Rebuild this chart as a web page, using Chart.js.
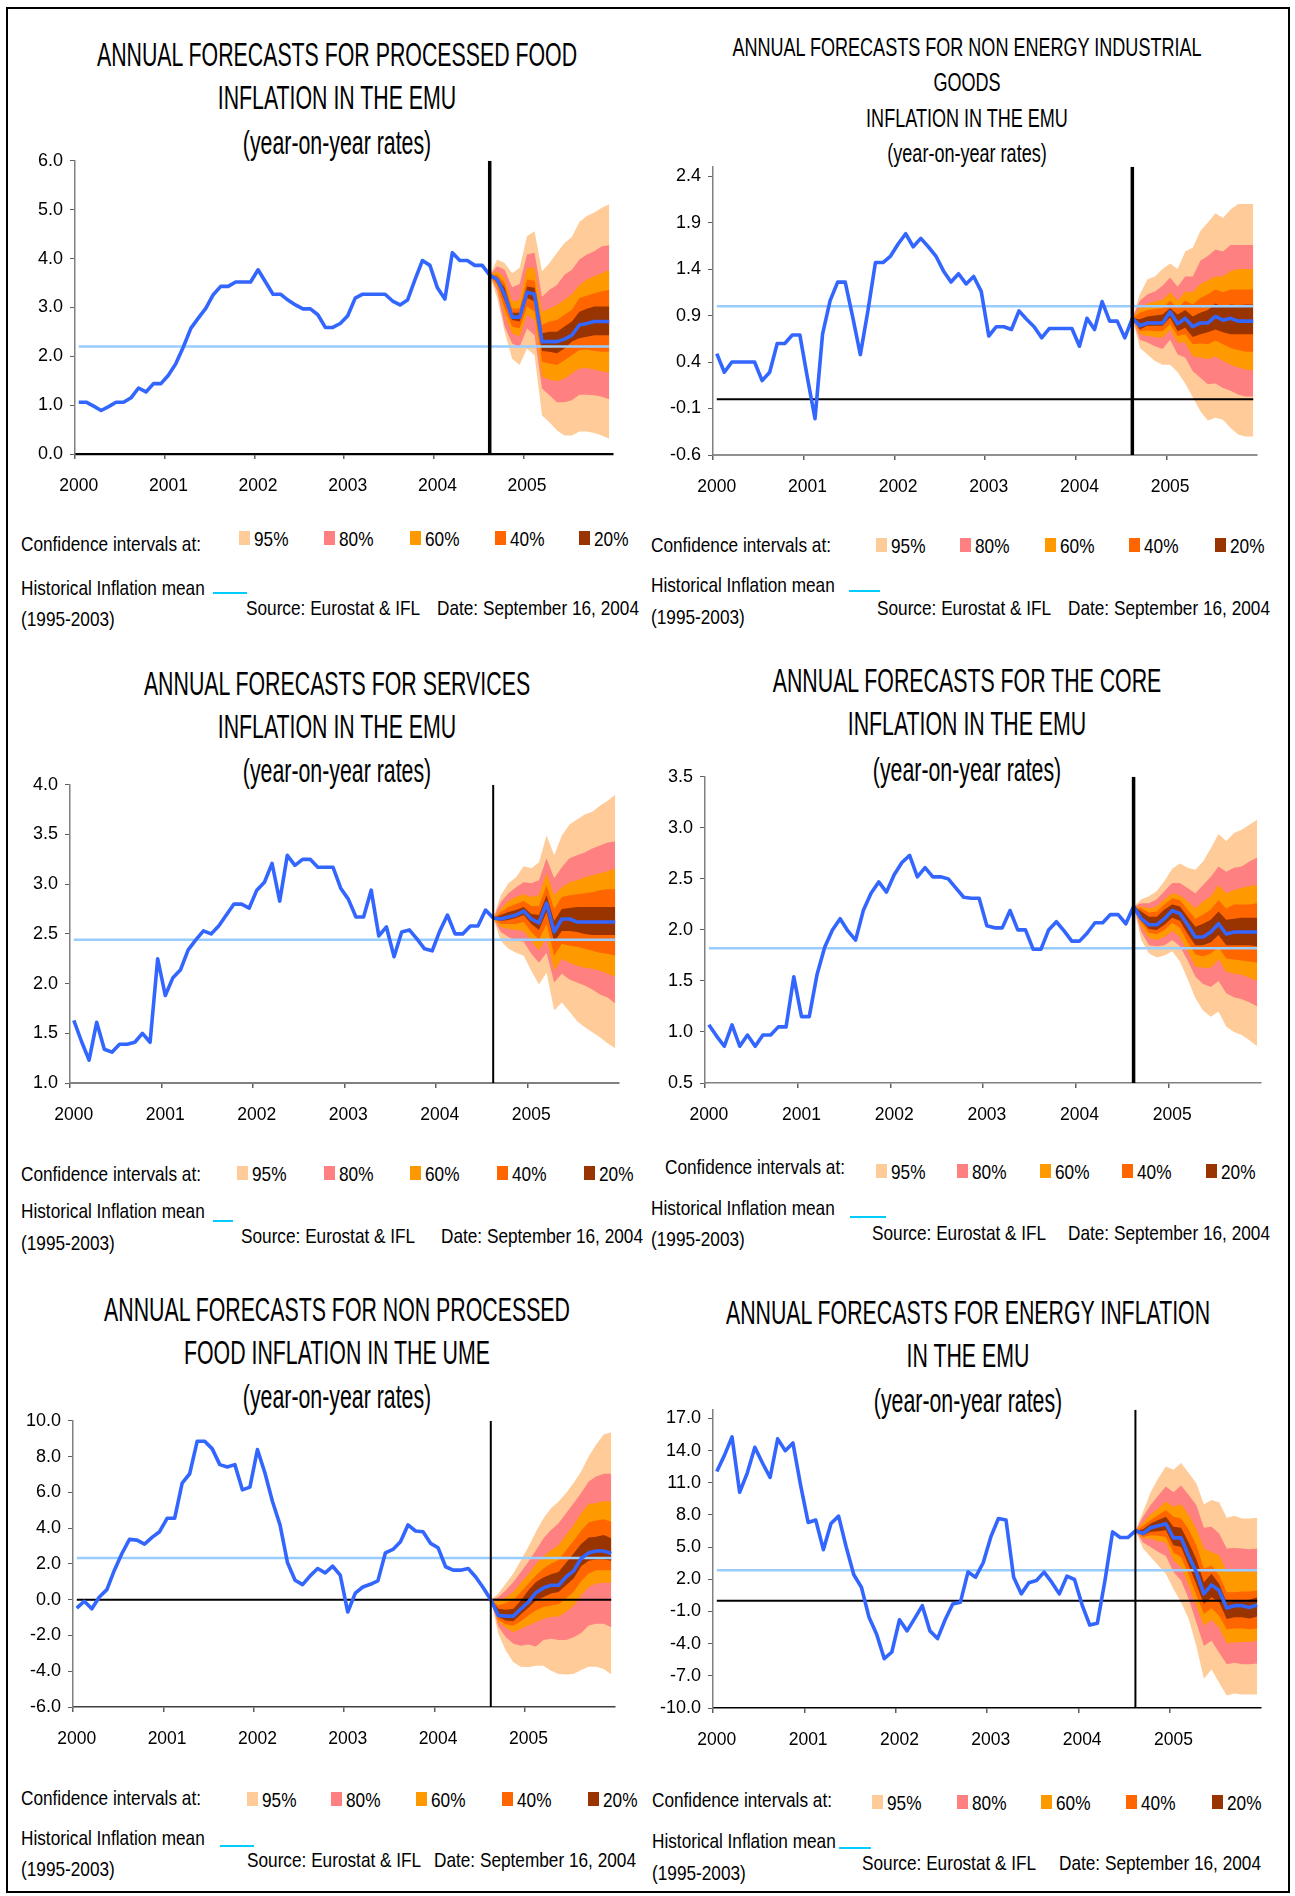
<!DOCTYPE html>
<html><head><meta charset="utf-8">
<script src="https://cdn.jsdelivr.net/npm/chart.js@4.4.1/dist/chart.umd.min.js"></script>
<style>
html,body{margin:0;padding:0;background:#fff;}
#page{position:relative;width:1295px;height:1896px;overflow:hidden;background:#fff;font-family:'Liberation Sans',Arial,sans-serif;color:#000;}
#frame{position:absolute;left:6px;top:7px;width:1284px;height:1886px;border:2px solid #000;box-sizing:border-box;}
.t{position:absolute;white-space:nowrap;line-height:1;}
canvas{position:absolute;}
</style></head><body><div id="page"><div id="frame"></div></div>
<script>
// ---------- categories ----------
const years = [2000, 2001, 2002, 2003, 2004, 2005];
const monthNames = ['Jan','Feb','Mar','Apr','May','Jun','Jul','Aug','Sep','Oct','Nov','Dec'];
const forecastStart = 'Aug 2004';
const bandLevels = ['95%', '80%', '60%', '40%', '20%'];

// ---------- 1. processed food ----------
const pfTicks = [0.0, 1.0, 2.0, 3.0, 4.0, 5.0, 6.0];
const pfMean = 2.2;
const pfHist = [1.06,1.06,0.98,0.89,0.97,1.06,1.06,1.15,1.35,1.27,1.44,1.44,
 1.61,1.85,2.19,2.57,2.78,2.98,3.26,3.43,3.43,3.52,3.52,3.52,
 3.77,3.52,3.27,3.27,3.15,3.05,2.97,2.97,2.85,2.59,2.59,2.67,
 2.83,3.19,3.27,3.27,3.27,3.27,3.13,3.05,3.15,3.57,3.96,3.86,
 3.40,3.17,4.12,3.96,3.96,3.86,3.86,3.66];
const pfFc  = [3.66,3.57,3.26,2.80,2.80,3.31,3.27,2.30,2.30,2.30,2.35,2.43,2.64,2.67,2.71,2.71,2.71];
const pfU95 = [3.66,3.98,3.91,3.70,3.81,4.46,4.56,3.74,3.91,4.12,4.32,4.44,4.75,4.87,4.94,5.04,5.11];
const pfU80 = [3.66,3.84,3.77,3.41,3.48,4.08,4.12,3.22,3.36,3.46,3.67,3.77,3.98,4.08,4.15,4.25,4.27];
const pfU60 = [3.66,3.74,3.60,3.12,3.15,3.81,3.81,2.91,2.98,3.05,3.15,3.27,3.46,3.57,3.64,3.70,3.77];
const pfU40 = [3.66,3.67,3.50,2.98,2.98,3.57,3.55,2.64,2.71,2.74,2.85,2.95,3.19,3.24,3.29,3.33,3.36];
const pfU20 = [3.66,3.61,3.40,2.89,2.89,3.43,3.40,2.47,2.50,2.50,2.61,2.71,2.91,2.97,3.02,3.02,3.02];
const pfL20 = [3.66,3.52,3.13,2.74,2.71,3.19,3.12,2.11,2.09,2.06,2.16,2.30,2.37,2.40,2.43,2.43,2.43];
const pfL40 = [3.66,3.46,2.98,2.61,2.57,3.02,2.91,1.89,1.85,1.82,1.92,2.02,2.13,2.14,2.11,2.09,2.09];
const pfL60 = [3.66,3.40,2.85,2.47,2.40,2.85,2.74,1.58,1.52,1.49,1.54,1.65,1.75,1.76,1.73,1.69,1.67];
const pfL80 = [3.66,3.33,2.61,2.26,2.19,2.57,2.43,1.34,1.20,1.06,1.06,1.10,1.21,1.21,1.20,1.17,1.12];
const pfL95 = [3.66,3.19,2.50,1.95,1.82,2.16,2.02,0.79,0.65,0.48,0.38,0.38,0.46,0.46,0.43,0.38,0.31];

// ---------- 2. non energy industrial goods ----------
const neTicks = [-0.6, -0.1, 0.4, 0.9, 1.4, 1.9, 2.4];
const neMean = 1.0;
const neHist = [0.49,0.29,0.40,0.40,0.40,0.40,0.20,0.29,0.60,0.60,0.69,0.69,
 0.23,-0.21,0.70,1.06,1.26,1.26,0.88,0.48,0.95,1.47,1.47,1.54,
 1.67,1.78,1.64,1.73,1.64,1.54,1.38,1.26,1.35,1.24,1.32,1.16,
 0.68,0.78,0.78,0.75,0.95,0.86,0.78,0.66,0.76,0.76,0.76,0.76,
 0.57,0.87,0.75,1.05,0.84,0.84,0.66,0.87];
const neFc  = [0.87,0.79,0.82,0.82,0.82,0.94,0.81,0.87,0.78,0.82,0.82,0.89,0.85,0.87,0.84,0.84,0.84];
const neU95 = [0.87,1.13,1.29,1.32,1.40,1.46,1.40,1.59,1.63,1.81,1.90,2.00,1.95,2.04,2.10,2.10,2.10];
const neU80 = [0.87,1.06,1.13,1.16,1.22,1.31,1.21,1.32,1.32,1.49,1.54,1.61,1.59,1.66,1.66,1.66,1.66];
const neU60 = [0.87,0.98,1.03,1.05,1.07,1.15,1.06,1.16,1.15,1.24,1.28,1.32,1.32,1.38,1.40,1.40,1.40];
const neU40 = [0.87,0.93,0.96,0.97,0.98,1.06,0.98,1.06,1.02,1.09,1.13,1.18,1.15,1.18,1.18,1.18,1.18];
const neU20 = [0.87,0.86,0.89,0.90,0.91,0.98,0.91,0.96,0.89,0.93,0.96,1.03,0.99,1.02,1.01,1.02,1.02];
const neL20 = [0.87,0.75,0.79,0.79,0.79,0.88,0.73,0.77,0.67,0.70,0.72,0.75,0.72,0.70,0.70,0.70,0.70];
const neL40 = [0.87,0.73,0.74,0.73,0.73,0.81,0.68,0.70,0.59,0.60,0.59,0.63,0.59,0.55,0.53,0.51,0.51];
const neL60 = [0.87,0.70,0.68,0.67,0.66,0.75,0.61,0.61,0.46,0.45,0.43,0.46,0.41,0.37,0.34,0.32,0.31];
const neL80 = [0.87,0.64,0.61,0.57,0.54,0.64,0.48,0.45,0.30,0.23,0.16,0.17,0.12,0.09,0.05,0.03,0.03];
const neL95 = [0.87,0.55,0.48,0.41,0.37,0.37,0.29,0.17,0.02,-0.13,-0.23,-0.20,-0.22,-0.31,-0.38,-0.40,-0.40];

// ---------- 3. services ----------
const svTicks = [1.0, 1.5, 2.0, 2.5, 3.0, 3.5, 4.0];
const svMean = 2.44;
const svHist = [1.63,1.42,1.23,1.61,1.34,1.31,1.39,1.39,1.41,1.50,1.41,2.25,
 1.88,2.06,2.14,2.34,2.44,2.53,2.50,2.58,2.69,2.80,2.80,2.76,
 2.94,3.02,3.21,2.83,3.29,3.19,3.25,3.25,3.17,3.17,3.17,2.96,
 2.85,2.67,2.67,2.94,2.48,2.57,2.27,2.52,2.54,2.45,2.35,2.33,
 2.53,2.69,2.50,2.50,2.58,2.58,2.74,2.66];
const svFc  = [2.66,2.65,2.67,2.69,2.73,2.65,2.61,2.81,2.52,2.65,2.65,2.62,2.62,2.62,2.62,2.62,2.62];
const svU95 = [2.66,2.89,3.01,3.07,3.18,3.16,3.22,3.49,3.29,3.49,3.60,3.65,3.70,3.73,3.79,3.84,3.90];
const svU80 = [2.66,2.82,2.91,2.97,3.02,3.01,3.04,3.26,3.06,3.17,3.26,3.29,3.32,3.36,3.39,3.42,3.43];
const svU60 = [2.66,2.75,2.83,2.87,2.90,2.87,2.89,3.11,2.89,2.97,3.02,3.04,3.07,3.09,3.11,3.13,3.16];
const svU40 = [2.66,2.72,2.77,2.80,2.83,2.78,2.78,2.99,2.75,2.87,2.89,2.90,2.91,2.92,2.94,2.95,2.95];
const svU20 = [2.66,2.69,2.72,2.74,2.77,2.70,2.69,2.89,2.63,2.75,2.76,2.77,2.77,2.77,2.77,2.77,2.77];
const svL20 = [2.66,2.63,2.64,2.66,2.69,2.60,2.54,2.72,2.42,2.53,2.53,2.52,2.50,2.49,2.49,2.49,2.49];
const svL40 = [2.66,2.60,2.60,2.60,2.62,2.52,2.44,2.60,2.28,2.40,2.38,2.37,2.35,2.33,2.31,2.30,2.28];
const svL60 = [2.66,2.57,2.55,2.54,2.53,2.43,2.33,2.47,2.13,2.25,2.21,2.18,2.16,2.15,2.13,2.10,2.07];
const svL80 = [2.66,2.52,2.47,2.43,2.42,2.30,2.21,2.31,2.01,2.10,2.04,2.01,1.98,1.94,1.89,1.86,1.80];
const svL95 = [2.66,2.43,2.35,2.31,2.28,2.13,1.99,2.11,1.73,1.81,1.72,1.62,1.56,1.51,1.46,1.40,1.35];

// ---------- 4. core ----------
const coTicks = [0.5, 1.0, 1.5, 2.0, 2.5, 3.0, 3.5];
const coMean = 1.82;
const coHist = [1.07,0.96,0.86,1.07,0.86,0.97,0.86,0.97,0.97,1.05,1.05,1.54,
 1.15,1.15,1.56,1.83,2.00,2.11,1.99,1.90,2.19,2.36,2.47,2.37,
 2.54,2.66,2.73,2.52,2.61,2.52,2.52,2.50,2.41,2.32,2.31,2.31,
 2.04,2.02,2.02,2.19,2.00,2.00,1.81,1.81,2.00,2.08,1.99,1.89,
 1.89,1.97,2.07,2.07,2.15,2.15,2.06,2.23];
const coFc  = [2.23,2.11,2.05,2.05,2.11,2.19,2.16,2.05,1.93,1.93,1.98,2.06,1.96,1.98,1.98,1.98,1.98];
const coU95 = [2.23,2.30,2.33,2.38,2.48,2.60,2.65,2.61,2.59,2.67,2.80,2.94,2.87,2.95,2.98,3.03,3.08];
const coU80 = [2.23,2.26,2.26,2.30,2.38,2.46,2.46,2.41,2.36,2.44,2.52,2.62,2.57,2.61,2.62,2.67,2.71];
const coU60 = [2.23,2.23,2.21,2.23,2.30,2.36,2.34,2.28,2.21,2.28,2.33,2.44,2.36,2.39,2.41,2.43,2.44];
const coU40 = [2.23,2.21,2.17,2.18,2.25,2.31,2.29,2.20,2.11,2.15,2.20,2.29,2.21,2.25,2.25,2.25,2.26];
const coU20 = [2.23,2.18,2.13,2.13,2.20,2.25,2.23,2.13,2.03,2.06,2.10,2.18,2.10,2.11,2.12,2.12,2.12];
const coL20 = [2.23,2.09,2.01,2.00,2.05,2.12,2.09,1.96,1.85,1.85,1.88,1.95,1.85,1.85,1.85,1.85,1.84];
const coL40 = [2.23,2.07,1.97,1.96,2.00,2.07,2.02,1.88,1.76,1.74,1.77,1.83,1.72,1.71,1.70,1.69,1.68];
const coL60 = [2.23,2.03,1.92,1.90,1.93,1.99,1.93,1.79,1.64,1.63,1.63,1.71,1.59,1.57,1.56,1.53,1.50];
const coL80 = [2.23,1.98,1.85,1.84,1.85,1.90,1.84,1.70,1.54,1.47,1.44,1.50,1.38,1.34,1.32,1.29,1.25];
const coL95 = [2.23,1.90,1.77,1.73,1.75,1.79,1.69,1.52,1.33,1.21,1.15,1.20,1.05,1.00,0.97,0.92,0.86];

// ---------- 5. non processed food ----------
const npTicks = [-6.0, -4.0, -2.0, 0.0, 2.0, 4.0, 6.0, 8.0, 10.0];
const npMean = 2.33;
const npHist = [-0.47,-0.09,-0.51,0.15,0.56,1.65,2.58,3.37,3.33,3.11,3.48,3.80,
 4.55,4.55,6.52,7.04,8.86,8.86,8.43,7.55,7.42,7.55,6.14,6.29,
 8.39,7.08,5.49,4.18,2.06,1.09,0.84,1.33,1.74,1.50,1.87,1.37,
 -0.69,0.37,0.71,0.86,1.05,2.62,2.81,3.24,4.18,3.84,3.80,3.15,
 2.90,1.84,1.65,1.65,1.74,1.27,0.67,0.00];
const npFc  = [0.00,-0.88,-0.92,-0.92,-0.51,-0.13,0.39,0.66,0.81,0.81,1.27,1.61,2.30,2.62,2.72,2.72,2.58];
const npU95 = [0.00,0.34,0.90,1.46,2.21,2.96,3.80,4.55,5.11,5.49,5.96,6.52,7.17,8.01,8.67,9.23,9.36];
const npU80 = [0.00,0.15,0.52,0.99,1.55,2.12,2.77,3.43,3.90,4.27,4.83,5.39,5.96,6.61,6.89,7.04,7.04];
const npU60 = [0.00,-0.07,0.15,0.43,0.94,1.42,1.99,2.43,2.77,3.05,3.61,4.18,4.83,5.36,5.39,5.52,5.49];
const npU40 = [0.00,-0.32,-0.19,0.00,0.43,0.90,1.37,1.74,2.02,2.21,2.77,3.30,3.86,4.31,4.42,4.49,4.36];
const npU20 = [0.00,-0.51,-0.56,-0.51,-0.04,0.52,0.99,1.24,1.42,1.55,2.06,2.58,3.11,3.48,3.52,3.61,3.43];
const npL20 = [0.00,-0.97,-1.16,-1.20,-0.82,-0.45,-0.04,0.15,0.34,0.43,0.81,1.18,1.87,2.17,2.25,2.25,2.17];
const npL40 = [0.00,-1.12,-1.39,-1.44,-1.20,-0.88,-0.60,-0.41,-0.32,-0.26,0.06,0.43,1.05,1.46,1.65,1.65,1.65];
const npL60 = [0.00,-1.25,-1.57,-1.82,-1.63,-1.44,-1.25,-1.07,-0.97,-0.94,-0.69,-0.32,0.24,0.71,0.90,0.94,0.94];
const npL80 = [0.00,-1.50,-2.10,-2.47,-2.57,-2.51,-2.62,-2.25,-2.19,-2.25,-2.25,-2.10,-1.87,-1.44,-1.35,-1.35,-1.54];
const npL95 = [0.00,-1.91,-2.85,-3.50,-3.75,-3.78,-3.69,-3.69,-3.97,-4.16,-4.19,-4.16,-3.93,-3.75,-3.75,-3.88,-4.19];

// ---------- 6. energy ----------
const enTicks = [-10.0, -7.0, -4.0, -1.0, 2.0, 5.0, 8.0, 11.0, 14.0, 17.0];
const enMean = 2.85;
const enHist = [12.05,13.55,15.27,10.11,11.90,14.30,12.84,11.49,15.09,13.99,14.71,10.80,
 7.30,7.52,4.76,7.20,7.89,5.01,2.42,1.26,-1.55,-3.12,-5.40,-4.78,
 -1.77,-2.81,-1.65,-0.46,-2.81,-3.53,-1.77,-0.30,-0.15,2.67,2.20,3.54,
 5.95,7.67,7.52,2.20,0.64,1.67,1.89,2.67,1.73,0.64,2.29,1.98,
 -0.40,-2.27,-2.09,1.89,6.42,5.89,5.89,6.52];
const enFc  = [6.52,6.27,6.80,6.98,7.17,5.86,5.86,4.17,2.67,0.64,1.48,0.95,-0.68,-0.46,-0.46,-0.62,-0.40];
const enU95 = [6.52,8.30,10.11,11.43,12.52,12.21,12.84,11.90,10.96,8.99,9.39,9.17,7.74,7.92,7.67,7.67,7.74];
const enU80 = [6.52,7.83,8.92,9.80,10.64,10.11,10.74,9.86,8.92,6.80,6.89,6.27,4.86,4.92,4.86,4.80,4.86];
const enU60 = [6.52,7.30,8.05,8.61,9.24,8.77,8.99,7.99,6.73,4.86,4.55,4.23,2.73,2.73,2.73,2.73,2.73];
const enU40 = [6.52,6.98,7.52,7.99,8.46,7.83,7.67,6.67,5.17,2.98,3.29,2.36,0.79,0.79,0.85,0.85,0.95];
const enU20 = [6.52,6.67,7.20,7.52,7.83,6.89,6.80,5.42,3.86,1.73,2.51,1.57,-0.15,0.01,0.01,0.10,0.32];
const enL20 = [6.52,6.11,6.42,6.48,6.58,5.17,5.01,3.29,1.57,-0.30,0.32,-0.15,-1.71,-1.55,-1.55,-1.65,-1.46];
const enL40 = [6.52,5.95,6.11,6.05,5.95,4.48,4.08,2.42,0.54,-1.24,-0.71,-1.40,-2.65,-2.59,-2.59,-2.65,-2.59];
const enL60 = [6.52,5.80,5.80,5.55,5.42,3.76,3.14,1.42,-0.46,-2.34,-1.77,-2.49,-3.96,-3.90,-3.84,-3.84,-3.74];
const enL80 = [6.52,5.42,5.01,4.55,4.17,2.67,1.89,0.17,-2.02,-4.21,-3.74,-4.84,-5.93,-5.78,-5.93,-5.93,-5.84];
const enL95 = [6.52,4.86,4.08,3.29,2.51,1.10,-0.15,-1.71,-4.21,-7.28,-6.40,-7.65,-8.84,-8.65,-8.75,-8.75,-8.75];

// ---------- styles ----------
const TICKFONT = "'Liberation Sans', Arial, sans-serif";
const NARROW_X = 0.82;   // Arial Narrow ≈ Arial condensed horizontally
const bandColors = ['#FFCC99', '#FF8080', '#FF9900', '#FF6600', '#993300'];
const lineBlue = '#3366FF';
const meanBlue = '#99CCFF';
const legendCyan = '#00CCFF';

const months = years.flatMap(y => monthNames.map(m => m + ' ' + y));
const startIdx = months.indexOf(forecastStart);

const panels = [
 { hist: pfHist, fc: pfFc, up: [pfU95,pfU80,pfU60,pfU40,pfU20], lo: [pfL95,pfL80,pfL60,pfL40,pfL20],
   ticks: pfTicks, yMin: 0, yMax: 6, mean: pfMean, zero: false, vW: 3.5, xc: '#000', xw: 2.2,
   L: 75, R: 613, T: 160.8, B: 455.8,
   title: ['ANNUAL FORECASTS FOR PROCESSED FOOD','INFLATION IN THE EMU','(year-on-year rates)'], tx: 337, ty: [54.4, 97, 142], ts: 26, sy: 1.3,
   ci: [20.6, 543], sw: [239.4, 324.1, 409.9, 494.6, 579.2], swy: 538, hi: [20.6, 586.5], ln: [212.8, 246.7, 592.5], yr: 618, src: [245.5, 436.5, 607] },
 { hist: neHist, fc: neFc, up: [neU95,neU80,neU60,neU40,neU20], lo: [neL95,neL80,neL60,neL40,neL20],
   ticks: neTicks, yMin: -0.6, yMax: 2.5, mean: neMean, zero: true, vW: 3.5, xc: '#909090', xw: 2,
   L: 713.4, R: 1257.6, T: 167.2, B: 457,
   title: ['ANNUAL FORECASTS FOR NON ENERGY INDUSTRIAL','GOODS','INFLATION IN THE EMU','(year-on-year rates)'], tx: 967, ty: [48.4, 83.4, 118.5, 153.6], ts: 22, sy: 1.2,
   ci: [650.5, 544], sw: [875.5, 960.1, 1044.7, 1129.4, 1215.2], swy: 545, hi: [650.5, 584], ln: [849, 880, 591.3], yr: 615.5, src: [876.7, 1067.7, 607] },
 { hist: svHist, fc: svFc, up: [svU95,svU80,svU60,svU40,svU20], lo: [svL95,svL80,svL60,svL40,svL20],
   ticks: svTicks, yMin: 1, yMax: 4, mean: svMean, zero: false, vW: 2, xc: '#808080', xw: 2,
   L: 70.1, R: 619.1, T: 784.8, B: 1084.6,
   title: ['ANNUAL FORECASTS FOR SERVICES','INFLATION IN THE EMU','(year-on-year rates)'], tx: 337, ty: [683, 726, 769.5], ts: 26, sy: 1.3,
   ci: [20.6, 1173], sw: [237, 324.1, 409.9, 497, 584], swy: 1173, hi: [20.6, 1210.4], ln: [212.8, 233.4, 1221.3], yr: 1242, src: [240.6, 441.4, 1234.6] },
 { hist: coHist, fc: coFc, up: [coU95,coU80,coU60,coU40,coU20], lo: [coL95,coL80,coL60,coL40,coL20],
   ticks: coTicks, yMin: 0.5, yMax: 3.5, mean: coMean, zero: false, vW: 3.5, xc: '#808080', xw: 1.5,
   L: 705, R: 1261.2, T: 776.3, B: 1084.6,
   title: ['ANNUAL FORECASTS FOR THE CORE','INFLATION IN THE EMU','(year-on-year rates)'], tx: 967, ty: [680, 723, 768.5], ts: 26, sy: 1.3,
   ci: [665, 1166], sw: [875.5, 956.5, 1039.9, 1122.1, 1205.6], swy: 1170.5, hi: [650.5, 1206.8], ln: [850, 886.3, 1216.5], yr: 1238.2, src: [871.8, 1067.7, 1232] },
 { hist: npHist, fc: npFc, up: [npU95,npU80,npU60,npU40,npU20], lo: [npL95,npL80,npL60,npL40,npL20],
   ticks: npTicks, yMin: -6, yMax: 10, mean: npMean, zero: true, vW: 2, xc: '#404040', xw: 1.5,
   L: 72.6, R: 614.3, T: 1420.8, B: 1708.6,
   title: ['ANNUAL FORECASTS FOR NON PROCESSED','FOOD INFLATION IN THE UME','(year-on-year rates)'], tx: 337, ty: [1308.5, 1351.5, 1395.5], ts: 26, sy: 1.3,
   ci: [20.6, 1797], sw: [246.7, 331.3, 416, 501.8, 587.7], swy: 1799.3, hi: [20.6, 1836.8], ln: [220, 254, 1846.4], yr: 1868.2, src: [246.7, 434.1, 1858.5] },
 { hist: enHist, fc: enFc, up: [enU95,enU80,enU60,enU40,enU20], lo: [enL95,enL80,enL60,enL40,enL20],
   ticks: enTicks, yMin: -10, yMax: 17.8, mean: enMean, zero: true, vW: 2, xc: '#000', xw: 1.5,
   L: 713.4, R: 1261.2, T: 1409.8, B: 1709.8,
   title: ['ANNUAL FORECASTS FOR ENERGY INFLATION','IN THE EMU','(year-on-year rates)'], tx: 968, ty: [1311.5, 1355, 1400], ts: 26, sy: 1.3,
   ci: [651.8, 1799], sw: [871.8, 956.5, 1041.1, 1125.8, 1211.6], swy: 1801.7, hi: [651.8, 1840.4], ln: [839.2, 870.6, 1847.7], yr: 1871.8, src: [862.2, 1059.3, 1862.2] }
];

const page = document.getElementById('page');

function padHist(arr) { return months.map((m, i) => i < arr.length ? arr[i] : null); }
function padFc(arr) { return months.map((m, i) => (i >= startIdx && i - startIdx < arr.length) ? arr[i - startIdx] : null); }

function addText(str, x, y, size, transform, origin) {
  const d = document.createElement('div');
  d.className = 't';
  d.textContent = str;
  d.style.left = x + 'px';
  d.style.top = y + 'px';
  d.style.fontSize = size + 'px';
  d.style.transform = transform;
  d.style.transformOrigin = origin;
  page.appendChild(d);
  return d;
}
function legendText(str, x, y) {
  return addText(str, x, y, 21, `translateY(-50%) scaleX(${NARROW_X})`, 'left center');
}
function addBox(x, y, w, h, color) {
  const d = document.createElement('div');
  d.style.position = 'absolute';
  d.style.left = x + 'px'; d.style.top = y + 'px';
  d.style.width = w + 'px'; d.style.height = h + 'px';
  d.style.background = color;
  page.appendChild(d);
}

function buildPanel(p) {
  // titles
  p.title.forEach((line, k) => addText(line, p.tx, p.ty[k], p.ts, `translate(-50%,-50%) scale(${NARROW_X},${p.sy})`, 'center center'));
  // legend
  legendText('Confidence intervals at:', p.ci[0], p.ci[1]);
  bandLevels.forEach((lv, k) => {
    addBox(p.sw[k], p.swy - 7, 11, 14, bandColors[k]);
    legendText(lv, p.sw[k] + 15, p.swy);
  });
  legendText('Historical Inflation mean', p.hi[0], p.hi[1]);
  addBox(p.ln[0], p.ln[2] - 1, p.ln[1] - p.ln[0], 2, legendCyan);
  legendText('(1995-2003)', p.hi[0], p.yr);
  legendText('Source: Eurostat & IFL', p.src[0], p.src[2]);
  legendText('Date: September 16, 2004', p.src[1], p.src[2]);

  // chart
  const yW = 70, padT = 16, padR = 14, xH = 48;
  const W = Math.round(yW + (p.R - p.L) + padR);
  const H = Math.round(padT + (p.B - p.T) + xH);
  const cv = document.createElement('canvas');
  cv.width = W; cv.height = H;
  cv.style.width = W + 'px'; cv.style.height = H + 'px';
  cv.style.left = (p.L - yW) + 'px'; cv.style.top = (p.T - padT) + 'px';
  page.appendChild(cv);

  const datasets = [];
  let ord = 40;
  for (let k = 0; k < 5; k++) {
    datasets.push({ data: padFc(p.up[k]), fill: '+1', backgroundColor: bandColors[k], borderColor: 'rgba(0,0,0,0)', borderWidth: 0, pointRadius: 0, order: ord });
    datasets.push({ data: padFc(p.lo[k]), fill: false, borderColor: 'rgba(0,0,0,0)', borderWidth: 0, pointRadius: 0, order: ord - 1 });
    ord -= 2;
  }
  datasets.push({ data: months.map(() => p.mean), borderColor: meanBlue, borderWidth: 2.5, pointRadius: 0, fill: false, order: 8 });
  if (p.zero) datasets.push({ data: months.map(() => 0), borderColor: '#000', borderWidth: 2, pointRadius: 0, fill: false, order: 7 });
  datasets.push({ data: padHist(p.hist), borderColor: lineBlue, borderWidth: 3.6, pointRadius: 0, fill: false, borderJoinStyle: 'round', order: 3 });
  datasets.push({ data: padFc(p.fc), borderColor: lineBlue, borderWidth: 3.6, pointRadius: 0, fill: false, borderJoinStyle: 'round', order: 3 });
  datasets.push({ data: [{ x: forecastStart, y: p.yMin }, { x: forecastStart, y: p.yMax }], borderColor: '#000', borderWidth: p.vW, pointRadius: 0, fill: false, order: 1 });

  const chart = new Chart(cv, {
    type: 'line',
    data: { labels: months, datasets },
    options: {
      responsive: false, animation: false, devicePixelRatio: 1,
      layout: { padding: { top: padT, right: padR, left: 0, bottom: 0 } },
      plugins: { legend: { display: false }, tooltip: { enabled: false } },
      elements: { line: { tension: 0 } },
      scales: {
        x: {
          type: 'category', offset: true,
          grid: { display: true, offset: true, drawOnChartArea: false, drawTicks: true, tickLength: 5, lineWidth: 1.5,
                  color: ctx => (ctx.index % 12 === 0) ? '#606060' : 'rgba(0,0,0,0)' },
          border: { display: true, color: p.xc, width: p.xw },
          ticks: { autoSkip: false, maxRotation: 0, minRotation: 0, padding: 17, color: '#000',
                   font: { family: TICKFONT, size: 17.5 },
                   callback: (v, i) => (i % 12 === 0) ? String(years[i / 12]) : '' },
          afterFit: s => { s.height = xH; }
        },
        y: {
          type: 'linear', min: p.yMin, max: p.yMax,
          afterBuildTicks: s => { s.ticks = p.ticks.map(v => ({ value: v })); },
          grid: { display: true, drawOnChartArea: false, drawTicks: true, tickLength: 5, color: '#606060', lineWidth: 1 },
          border: { display: true, color: '#808080', width: 1.5 },
          ticks: { padding: 7, color: '#000', font: { family: TICKFONT, size: 18 }, callback: v => Number(v).toFixed(1) },
          afterFit: s => { s.width = yW; }
        }
      }
    }
  });
  const ca = chart.chartArea;
  cv.style.left = (p.L - ca.left) + 'px';
  cv.style.top = (p.T - ca.top) + 'px';
}

panels.forEach(buildPanel);
</script></body></html>
